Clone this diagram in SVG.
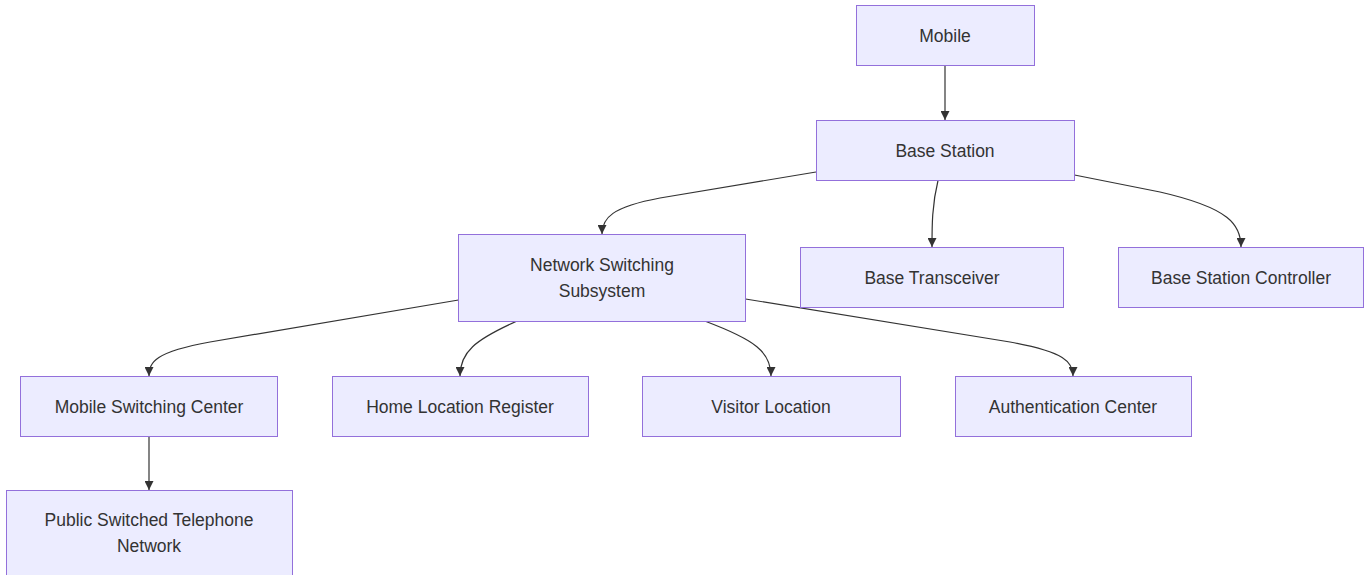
<svg xmlns="http://www.w3.org/2000/svg" width="1364" height="575" viewBox="0 0 1364 575">
<style>
.node rect{fill:#ECECFF;stroke:#9370DB;stroke-width:1}
.node text{font-family:"Liberation Sans",Arial,sans-serif;font-size:17.5px;fill:#333;text-anchor:middle;dominant-baseline:central}
.edge{fill:none;stroke:#333;stroke-width:1.2}
</style>
<defs>
<marker id="arrow" viewBox="0 0 10 10" refX="10" refY="5" markerWidth="9" markerHeight="9" markerUnits="userSpaceOnUse" orient="auto">
<path d="M0,0 L10,5 L0,10 z" fill="#333"/>
</marker>
</defs>
<rect width="1364" height="575" fill="#fff"/>
<g id="connectors">
<path class="edge" marker-end="url(#arrow)" d="M945,65.5 L945,120"/>
<path class="edge" marker-end="url(#arrow)" d="M816,172 L660,198 C612,207 602,218 602,234"/>
<path class="edge" marker-end="url(#arrow)" d="M938,180.5 C932,205 932,225 932,247"/>
<path class="edge" marker-end="url(#arrow)" d="M1074.5,175 L1160,192 C1230,208 1241,225 1241,247"/>
<path class="edge" marker-end="url(#arrow)" d="M458.5,300 L210,342 C155,352 149,362 149,376"/>
<path class="edge" marker-end="url(#arrow)" d="M516,321.5 C475,340 460,352 460,376"/>
<path class="edge" marker-end="url(#arrow)" d="M706,321.5 C755,340 771,352 771,376"/>
<path class="edge" marker-end="url(#arrow)" d="M745.5,299 L1010,342 C1065,352 1073,362 1073,376"/>
<path class="edge" marker-end="url(#arrow)" d="M149,436.5 L149,490"/>
</g>
<g id="mobile" class="node"><rect x="856.5" y="5.5" width="178" height="60"/><text x="945" y="35.5">Mobile</text></g>
<g id="base-station" class="node"><rect x="816.5" y="120.5" width="258" height="60"/><text x="945" y="150.5">Base Station</text></g>
<g id="nss" class="node"><rect x="458.5" y="234.5" width="287" height="87"/><text x="602" y="265">Network Switching</text><text x="602" y="291">Subsystem</text></g>
<g id="bts" class="node"><rect x="800.5" y="247.5" width="263" height="60"/><text x="932" y="277.5">Base Transceiver</text></g>
<g id="bsc" class="node"><rect x="1118.5" y="247.5" width="245" height="60"/><text x="1241" y="277.5">Base Station Controller</text></g>
<g id="msc" class="node"><rect x="20.5" y="376.5" width="257" height="60"/><text x="149" y="406.5">Mobile Switching Center</text></g>
<g id="hlr" class="node"><rect x="332.5" y="376.5" width="256" height="60"/><text x="460" y="406.5">Home Location Register</text></g>
<g id="vlr" class="node"><rect x="642.5" y="376.5" width="258" height="60"/><text x="771" y="406.5">Visitor Location</text></g>
<g id="auc" class="node"><rect x="955.5" y="376.5" width="236" height="60"/><text x="1073" y="406.5">Authentication Center</text></g>
<g id="pstn" class="node"><rect x="6.5" y="490.5" width="286" height="87"/><text x="149" y="520">Public Switched Telephone</text><text x="149" y="546">Network</text></g>
</svg>
